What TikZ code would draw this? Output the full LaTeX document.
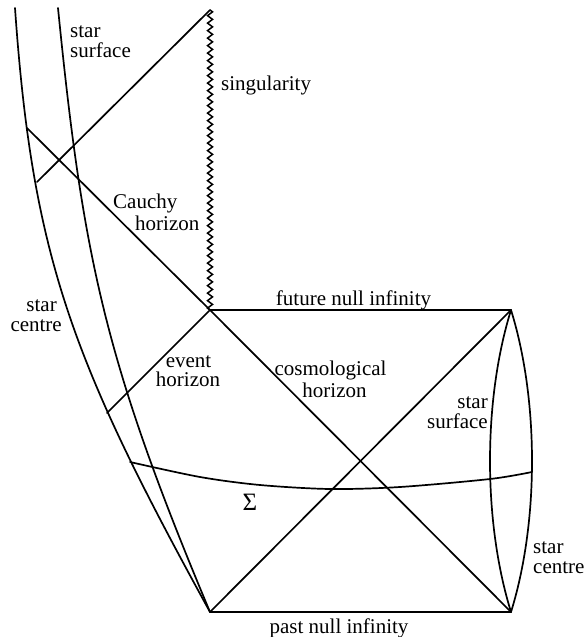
\documentclass[tikz,border=0pt]{standalone}
\usepackage{fontspec}
\setmainfont{Liberation Serif}
\usetikzlibrary{decorations.pathmorphing}
\begin{document}
\begin{tikzpicture}[x=1pt,y=-1pt,
  ln/.style={line width=1.7pt, line cap=round, line join=round},
  lbl/.style={inner sep=0pt, text depth=0pt, font=\rmfamily\fontsize{21}{21}\selectfont},
  sing/.style={line width=1.5pt, decorate, decoration={zigzag, segment length=7.5pt, amplitude=2.5pt}}]
\useasboundingbox (0,0) rectangle (587,637);
% key points
\coordinate (A) at (210,10);
\coordinate (F) at (210,310);
\coordinate (B) at (210,612);
\coordinate (R) at (511,310);
\coordinate (Q) at (511,612);
\coordinate (C1) at (27,128);
\coordinate (C2) at (37,182);
\coordinate (C3) at (107,413);
\coordinate (O0) at (15,8);
\coordinate (I0) at (58,8);
% singularity
\draw[sing] (A) -- (F);
% square and diagonals
\draw[ln] (F) -- (R);
\draw[ln] (B) -- (Q);
\draw[ln] (B) -- (R);
\draw[ln] (F) -- (Q);
% horizons to the left
\draw[ln] (F) -- (C1);
\draw[ln] (A) -- (C2);
\draw[ln] (F) -- (C3);
% star curves on the left
\draw[ln] (O0) .. controls (32.5,258) and (72.5,362) .. (B);
\draw[ln] (I0) .. controls (83,258) and (105,362) .. (B);
% Sigma curve
\draw[ln] plot[smooth] coordinates {(130,462) (200,477) (260,485) (330,489) (400,487) (490,479) (532,472)};
% lens on the right
\draw[ln] (R) .. controls (483,400) and (483,522) .. (Q);
\draw[ln] (R) .. controls (539,400) and (539,522) .. (Q);
% labels
\node[lbl, anchor=base west] (ss1) at (70,37) {star};
\node[lbl, anchor=base west] (ss2) at (70,57) {surface};
\node[lbl, anchor=base west] (sg) at (221,90) {singularity};
\node[lbl, anchor=base west] (cau1) at (113,208) {Cauchy};
\node[lbl, anchor=base west] (cau2) at (135,230) {horizon};
\node[lbl, anchor=base east] (sc1) at (57,311) {star};
\node[lbl, anchor=base east] (sc2) at (62,331) {centre};
\node[lbl, anchor=base] (fni) at (353.5,305) {future null infinity};
\node[lbl, anchor=base] (ev1) at (188.5,367) {event};
\node[lbl, anchor=base] (ev2) at (188,386) {horizon};
\node[lbl, anchor=base] (co1) at (330.5,375) {cosmological};
\node[lbl, anchor=base] (co2) at (334.5,397) {horizon};
\node[lbl, anchor=base east] (rs1) at (488,408) {star};
\node[lbl, anchor=base east] (rs2) at (488,428) {surface};
\node[lbl, anchor=base, font=\rmfamily\fontsize{25}{25}\selectfont] (sig) at (250,510) {Σ};
\node[lbl, anchor=base west] (rc1) at (533,553) {star};
\node[lbl, anchor=base west] (rc2) at (533,573) {centre};
\node[lbl, anchor=base] (pni) at (339,633) {past null infinity};
\end{tikzpicture}
\end{document}
